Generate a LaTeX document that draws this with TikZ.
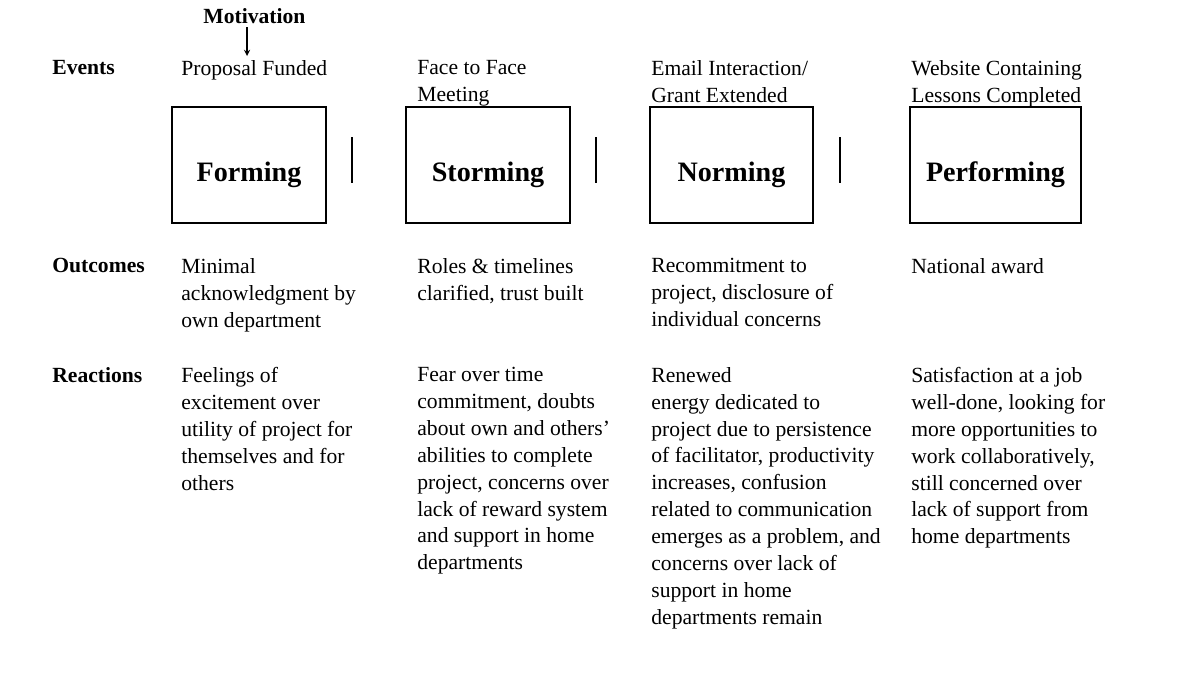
\documentclass[tikz,border=0pt]{standalone}
\usepackage{fontspec}
\setmainfont{Liberation Serif}
\usetikzlibrary{positioning}
\begin{document}
\begin{tikzpicture}[x=0.02cm,y=-0.02cm,
  txt/.style={anchor=north west,inner sep=0pt,align=left,font=\fontsize{12.3}{15.3}\selectfont},
  head/.style={txt,font=\fontsize{12.3}{15.3}\selectfont\bfseries},
  stage/.style={draw,thick,minimum width=#1,minimum height=2.32cm},
  stagename/.style={font=\fontsize{16}{18}\selectfont\bfseries},
  bar/.style={line width=1.6pt}]

\useasboundingbox (0,0) rectangle (1200,673);

%% row heads
\node[head] (events) at (52,60) {Events};
\node[head] (outc) at (52,258) {Outcomes};
\node[head] (react) at (52,367) {Reactions};
\node[head] (motiv) at (203,8) {Motivation};

%% events
\node[txt] (ev1) at (181,60) {Proposal Funded};
\node[txt] (ev2) at (417,60) {Face to Face\\Meeting};
\node[txt] (ev3) at (651,60) {Email Interaction/\\Grant Extended};
\node[txt] (ev4) at (911,60) {Website Containing\\Lessons Completed};
\draw[-stealth,semithick] (247,27) -- (247,56);

%% stages
\node[stage=3.08cm] (forming) at (249,165) {};
\node[stage=3.28cm] (storming) at (488,165) {};
\node[stage=3.26cm] (norming) at (731.5,165) {};
\node[stage=3.42cm] (performing) at (995.5,165) {};
\node[stagename] at (249,175) {Forming};
\node[stagename] at (488,175) {Storming};
\node[stagename] at (731.5,175) {Norming};
\node[stagename] at (995.5,175) {Performing};
\foreach \x in {352,596,840}
  \draw[bar] (\x,137) -- (\x,183);

%% outcomes
\node[txt] (out1) at (181,258) {Minimal\\acknowledgment by\\own department};
\node[txt] (out2) at (417,258) {Roles \& timelines\\clarified, trust built};
\node[txt] (out3) at (651,258) {Recommitment to\\project, disclosure of\\individual concerns};
\node[txt] (out4) at (911,258) {National award};

%% reactions
\node[txt] (re1) at (181,367) {Feelings of\\excitement over\\utility of project for\\themselves and for\\others};
\node[txt] (re2) at (417,367) {Fear over time\\commitment, doubts\\about own and others'\\abilities to complete\\project, concerns over\\lack of reward system\\and support in home\\departments};
\node[txt] (re3) at (651,367) {Renewed\\energy dedicated to\\project due to persistence\\of facilitator, productivity\\increases, confusion\\related to communication\\emerges as a problem, and\\concerns over lack of\\support in home\\departments remain};
\node[txt] (re4) at (911,367) {Satisfaction at a job\\well-done, looking for\\more opportunities to\\work collaboratively,\\still concerned over\\lack of support from\\home departments};

\end{tikzpicture}
\end{document}
